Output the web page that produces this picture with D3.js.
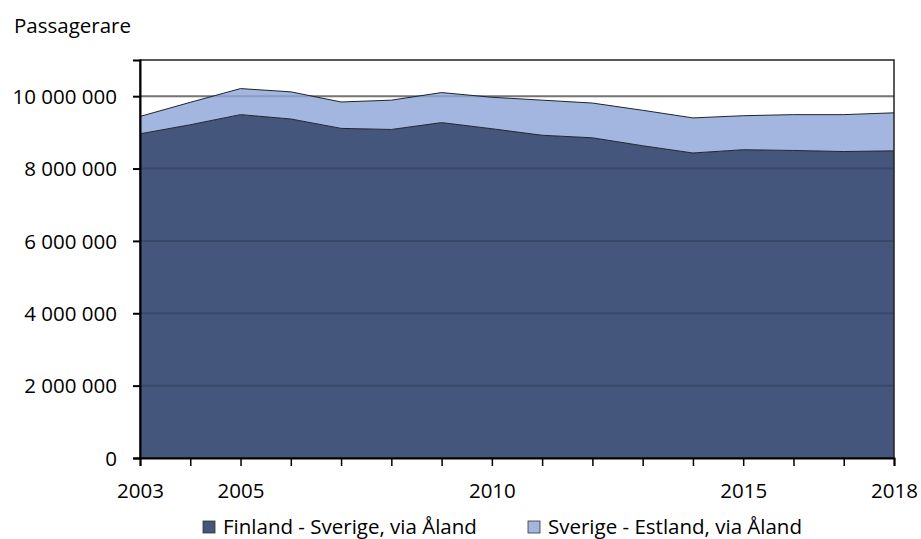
<!DOCTYPE html>
<html>
<head>
<meta charset="utf-8">
<script src="https://cdn.jsdelivr.net/npm/d3@7"></script>
<style>
  body { margin: 0; background: #fff; }
  text { font-family: "Open Sans", sans-serif; fill: #000; }
</style>
</head>
<body>
<div id="chart"></div>
<script>
// data
var years = [2003, 2004, 2005, 2006, 2007, 2008, 2009, 2010, 2011, 2012, 2013, 2014, 2015, 2016, 2017, 2018];
var finlandSverige = [8960000, 9210000, 9490000, 9370000, 9110000, 9080000, 9270000, 9100000, 8920000, 8850000, 8630000, 8430000, 8520000, 8500000, 8470000, 8490000];
var sverigeEstland = [480000, 620000, 720000, 750000, 730000, 810000, 830000, 870000, 970000, 960000, 980000, 970000, 940000, 990000, 1020000, 1050000];
var seriesNames = ["Finland - Sverige, via Åland", "Sverige - Estland, via Åland"];
var yTicks = [0, 2000000, 4000000, 6000000, 8000000, 10000000];
var xLabels = [2003, 2005, 2010, 2015, 2018];

var width = 921, height = 539;
var margin = { top: 60, right: 27, bottom: 81, left: 140 };
var plotW = width - margin.left - margin.right;
var plotH = height - margin.top - margin.bottom;
var fontSize = "20.5px";

var svg = d3.select("#chart").append("svg")
    .attr("width", width)
    .attr("height", height);

var x = d3.scaleLinear().domain([2003, 2018]).range([0, plotW]);
var y = d3.scaleLinear().domain([0, 11000000]).range([plotH, 0]);

var rows = years.map(function (yr, i) {
    return { year: yr, fs: finlandSverige[i], se: sverigeEstland[i] };
});
var stacked = d3.stack().keys(["fs", "se"])(rows);
var colors = ["#44567c", "#a2b6e0"];

var g = svg.append("g").attr("transform", "translate(" + margin.left + "," + margin.top + ")");

// gridlines behind the areas
g.selectAll(".grid")
    .data(yTicks.slice(1))
    .enter().append("line")
    .attr("x1", 0).attr("x2", plotW)
    .attr("y1", function (d) { return y(d); })
    .attr("y2", function (d) { return y(d); })
    .attr("stroke", "#8a8a8a")
    .attr("stroke-width", 2);

var area = d3.area()
    .x(function (d) { return x(d.data.year); })
    .y0(function (d) { return y(d[0]); })
    .y1(function (d) { return y(d[1]); });

var line = d3.line()
    .x(function (d) { return x(d.data.year); })
    .y(function (d) { return y(d[1]); });

g.selectAll(".area")
    .data(stacked)
    .enter().append("path")
    .attr("d", area)
    .attr("fill", function (d, i) { return colors[i]; });

// gridlines show faintly through the fill
g.selectAll(".grid2")
    .data(yTicks.slice(1))
    .enter().append("line")
    .attr("x1", 0).attr("x2", plotW)
    .attr("y1", function (d) { return y(d); })
    .attr("y2", function (d) { return y(d); })
    .attr("stroke", "rgba(0,0,0,0.14)")
    .attr("stroke-width", 2);

g.selectAll(".edge")
    .data(stacked)
    .enter().append("path")
    .attr("d", line)
    .attr("fill", "none")
    .attr("stroke", "#1e2430")
    .attr("stroke-width", 1);

// plot frame
g.append("rect")
    .attr("width", plotW).attr("height", plotH)
    .attr("fill", "none")
    .attr("stroke", "#222")
    .attr("stroke-width", 1.5);

// y axis
var yAxis = d3.axisLeft(y)
    .tickValues(yTicks)
    .tickSize(7)
    .tickPadding(16)
    .tickFormat(function (d) { return d3.format(",")(d).replace(/,/g, " "); });
var yg = g.append("g").call(yAxis);
yg.select(".domain").attr("stroke", "#000").attr("stroke-width", 2);
yg.selectAll(".tick line").attr("stroke", "#000").attr("stroke-width", 2);
yg.selectAll("text").style("font-size", fontSize).attr("dy", "0.35em");

// x axis: ticks every year, labels on a few
var xAxis = d3.axisBottom(x)
    .tickValues(years)
    .tickSize(8)
    .tickPadding(17)
    .tickFormat(function (d) { return xLabels.indexOf(d) >= 0 ? d : ""; });
var xg = g.append("g").attr("transform", "translate(0," + plotH + ")").call(xAxis);
xg.select(".domain").attr("stroke", "#000").attr("stroke-width", 2);
xg.selectAll(".tick line").attr("stroke", "#000").attr("stroke-width", 1.5);
xg.selectAll("text").style("font-size", fontSize);

// y title
svg.append("text")
    .attr("x", 14).attr("y", 33)
    .style("font-size", fontSize)
    .text("Passagerare");

// legend
var legendX = [203, 528];
var leg = svg.selectAll(".leg")
    .data(seriesNames)
    .enter().append("g")
    .attr("transform", function (d, i) { return "translate(" + legendX[i] + ",521)"; });
leg.append("rect")
    .attr("width", 12).attr("height", 12)
    .attr("fill", function (d, i) { return colors[i]; })
    .attr("stroke", "#333").attr("stroke-width", 0.8);
leg.append("text")
    .attr("x", 20).attr("y", 13)
    .style("font-size", fontSize)
    .text(function (d) { return d; });
</script>
</body>
</html>
